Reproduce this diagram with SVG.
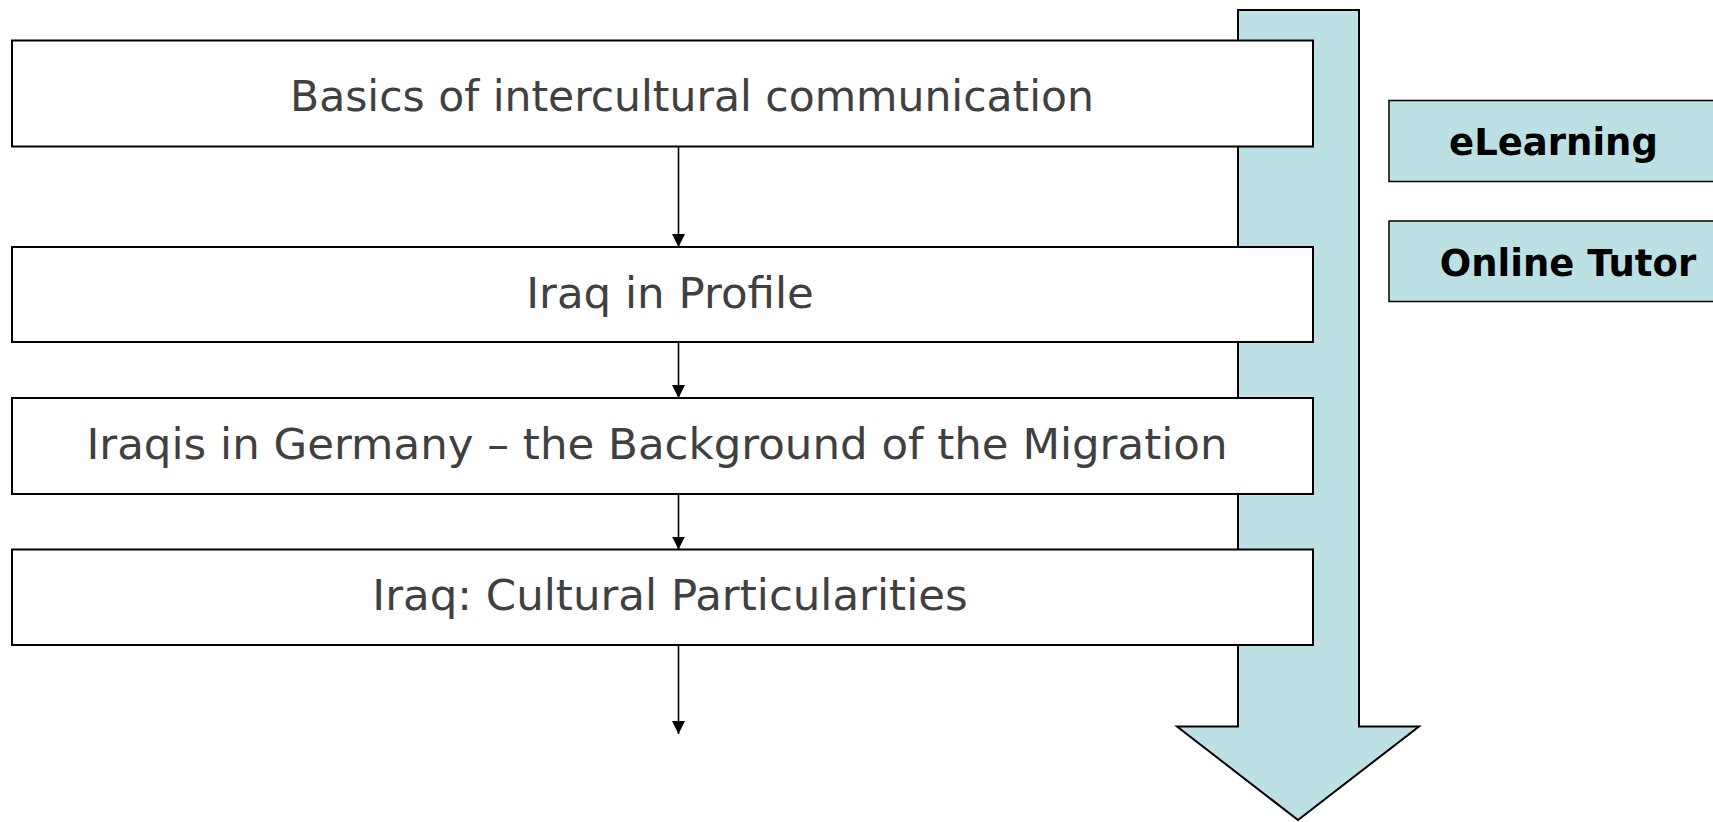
<svg xmlns="http://www.w3.org/2000/svg" width="1713" height="822" viewBox="0 0 1713 822">
  <style>
    .step { fill: #ffffff; stroke: #000000; stroke-width: 2; }
    .step-label { font-family: "DejaVu Sans", Verdana, sans-serif; font-size: 43.5px; fill: #404040; text-anchor: middle; }
    .tag { fill: #bce0e3; stroke: #000000; stroke-width: 1.5; }
    .tag-label { font-family: "DejaVu Sans", Verdana, sans-serif; font-size: 37px; font-weight: bold; fill: #000000; text-anchor: middle; }
    .flow { stroke: #000000; stroke-width: 1.6; fill: none; marker-end: url(#tip); }
    .big-arrow { fill: #bce0e3; stroke: #000000; stroke-width: 2; stroke-linejoin: miter; }
  </style>
  <defs>
    <marker id="tip" viewBox="0 0 13 13" refX="13" refY="6.5" markerWidth="13" markerHeight="13" markerUnits="userSpaceOnUse" orient="auto">
      <path d="M0,0 L13,6.5 L0,13 Z" fill="#000000"/>
    </marker>
  </defs>

  <rect width="1713" height="822" fill="#ffffff"/>

  <!-- large downward process arrow behind the steps -->
  <g id="process-arrow">
    <path class="big-arrow" d="M1238,10 L1359,10 L1359,726.5 L1419,726.5 L1298,820 L1177,726.5 L1238,726.5 Z"/>
  </g>

  <!-- connectors between steps -->
  <g id="connectors">
    <line class="flow" x1="678.5" y1="146.5" x2="678.5" y2="247"/>
    <line class="flow" x1="678.5" y1="342" x2="678.5" y2="398"/>
    <line class="flow" x1="678.5" y1="494" x2="678.5" y2="549.5"/>
    <line class="flow" x1="678.5" y1="645" x2="678.5" y2="734"/>
  </g>

  <g id="step-basics">
    <rect class="step" x="12" y="40.5" width="1301" height="106"/>
    <text class="step-label" x="692" y="111" style="font-size:42.5px">Basics of intercultural communication</text>
  </g>

  <g id="step-profile">
    <rect class="step" x="12" y="247" width="1301" height="95"/>
    <text class="step-label" x="670" y="307.5">Iraq in Profile</text>
  </g>

  <g id="step-migration">
    <rect class="step" x="12" y="398" width="1301" height="96"/>
    <text class="step-label" x="657" y="458.5">Iraqis in Germany – the Background of the Migration</text>
  </g>

  <g id="step-culture">
    <rect class="step" x="12" y="549.5" width="1301" height="95.5"/>
    <text class="step-label" x="670" y="610">Iraq: Cultural Particularities</text>
  </g>

  <g id="tag-elearning">
    <rect class="tag" x="1389" y="100.5" width="340" height="81"/>
    <text class="tag-label" x="1553.5" y="155">eLearning</text>
  </g>

  <g id="tag-online-tutor">
    <rect class="tag" x="1389" y="221" width="340" height="80.5"/>
    <text class="tag-label" x="1568" y="276">Online Tutor</text>
  </g>
</svg>
